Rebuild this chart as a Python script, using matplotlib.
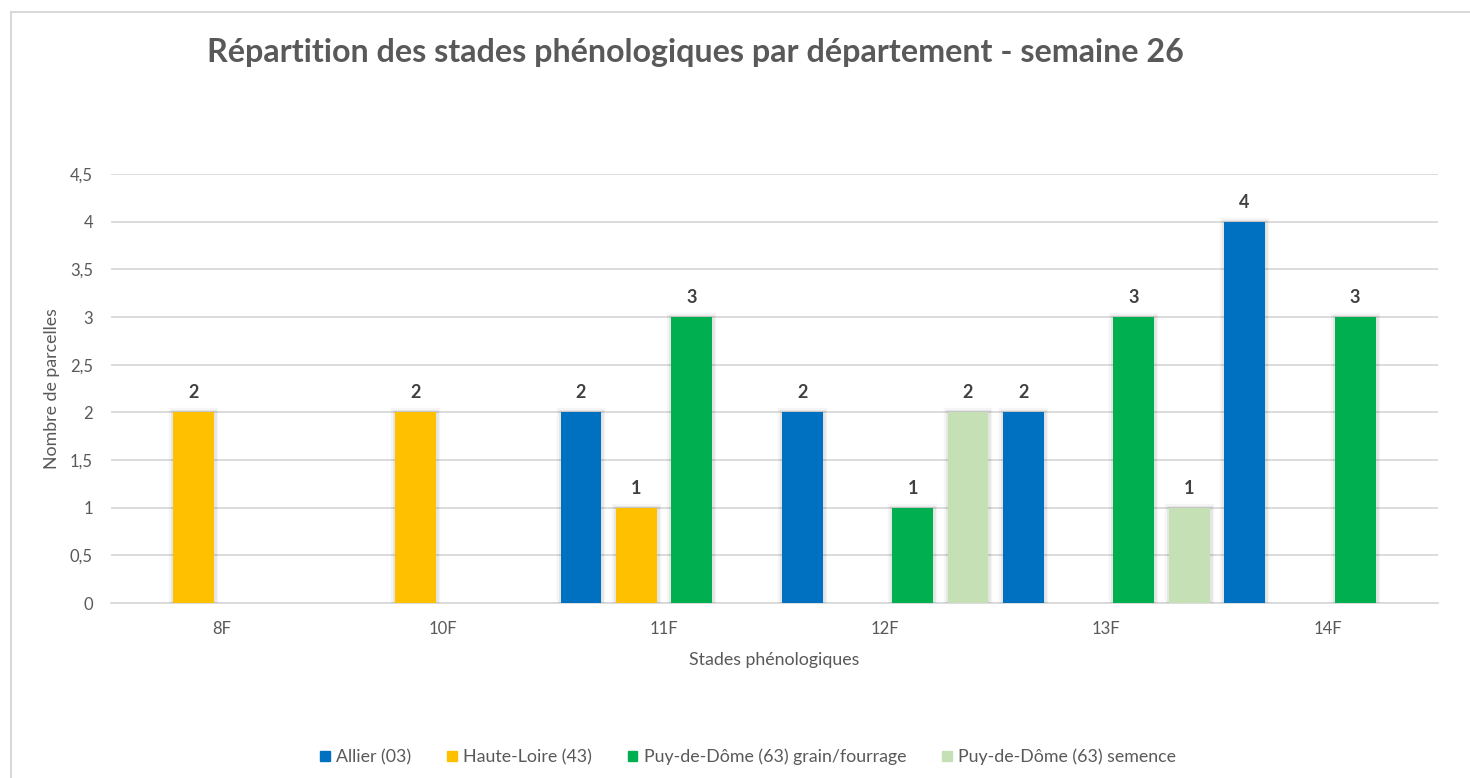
import numpy as np
import matplotlib
matplotlib.use("Agg")
import matplotlib.pyplot as plt
import matplotlib.patheffects as pe
from matplotlib.lines import Line2D

plt.rcParams['font.family'] = ['Lato', 'DejaVu Sans']

# ---- data ----
categories = ["8F", "10F", "11F", "12F", "13F", "14F"]
series_names = ["Allier (03)", "Haute-Loire (43)",
                "Puy-de-Dôme (63) grain/fourrage", "Puy-de-Dôme (63) semence"]
allier = [0, 0, 2, 2, 2, 4]
haute_loire = [2, 2, 1, 0, 0, 0]
pdd_grain = [0, 0, 3, 1, 3, 3]
pdd_semence = [0, 0, 0, 2, 1, 0]
y_ticks = [0, 0.5, 1, 1.5, 2, 2.5, 3, 3.5, 4, 4.5]
y_tick_labels = ["0", "0,5", "1", "1,5", "2", "2,5", "3", "3,5", "4", "4,5"]

colors = ["#0070C0", "#FFC000", "#00B050", "#C5E0B4"]
series = [allier, haute_loire, pdd_grain, pdd_semence]

TXT = "#595959"
GRID = "#D9D9D9"

W, H = 1470, 778
fig = plt.figure(figsize=(W / 100, H / 100), dpi=100)
ax = fig.add_axes([111 / W, (H - 603) / H, 1327 / W, 429 / H])

x = np.arange(len(categories))
slot = 0.25
bw = 0.185
shadow = [pe.Stroke(linewidth=6, foreground="#000000", alpha=0.04),
          pe.Stroke(linewidth=3.5, foreground="#000000", alpha=0.06),
          pe.Normal()]

handles = []
for i, (vals, col, name) in enumerate(zip(series, colors, series_names)):
    vals = np.asarray(vals, dtype=float)
    mask = vals > 0
    xs = x[mask] + (i - 1.5) * slot
    bars = ax.bar(xs, vals[mask], width=bw, color=col, zorder=3, linewidth=0)
    for b in bars:
        b.set_path_effects(shadow)
    ax.bar_label(bars, labels=[f"{int(v)}" for v in vals[mask]], padding=8,
                 fontsize=13, fontweight="bold", color="#404040")
    handles.append(plt.Rectangle((0, 0), 1, 1, color=col))

ax.set_xlim(-0.5, len(categories) - 0.5)
ax.set_ylim(0, 4.5)
ax.set_yticks(y_ticks)
ax.set_yticklabels(y_tick_labels)
ax.set_xticks(x)
ax.set_xticklabels(categories)
ax.tick_params(axis="both", length=0, labelsize=12, labelcolor=TXT)
ax.tick_params(axis="y", pad=13)
ax.tick_params(axis="x", pad=13)
ax.grid(axis="y", color=GRID, linewidth=1.3)
ax.set_axisbelow(True)
for s in ["top", "right", "left"]:
    ax.spines[s].set_visible(False)
ax.spines["bottom"].set_color(GRID)
ax.spines["bottom"].set_linewidth(1.3)

ax.set_xlabel("Stades phénologiques", fontsize=12.8, color=TXT)
ax.xaxis.label.set_va("center")
ax.xaxis.set_label_coords(0.5, -57 / 429)
ax.set_ylabel("Nombre de parcelles", fontsize=12.8, color=TXT)
ax.yaxis.label.set_va("center")
ax.yaxis.set_label_coords((52 - 111) / 1327, 0.5)

fig.text(695 / W, 1 - 62 / H,
         "Répartition des stades phénologiques par département - semaine 26",
         ha="center", va="baseline", fontsize=23.2, fontweight="bold", color=TXT)

leg = fig.legend(handles, series_names, loc="center", ncol=4,
                 bbox_to_anchor=(748 / W, 1 - 757 / H), frameon=False,
                 fontsize=12.8, handlelength=0.56, handleheight=0.56,
                 handletextpad=0.35, columnspacing=2.0, labelcolor=TXT)

# chart border (left and top visible)
fig.add_artist(Line2D([11 / W, 11 / W], [0, 1 - 12 / H], color=GRID, lw=1.5,
                      transform=fig.transFigure))
fig.add_artist(Line2D([11 / W, 1], [1 - 12 / H, 1 - 12 / H], color=GRID, lw=1.5,
                      transform=fig.transFigure))

fig.savefig("out.png", dpi=100, facecolor="white")
